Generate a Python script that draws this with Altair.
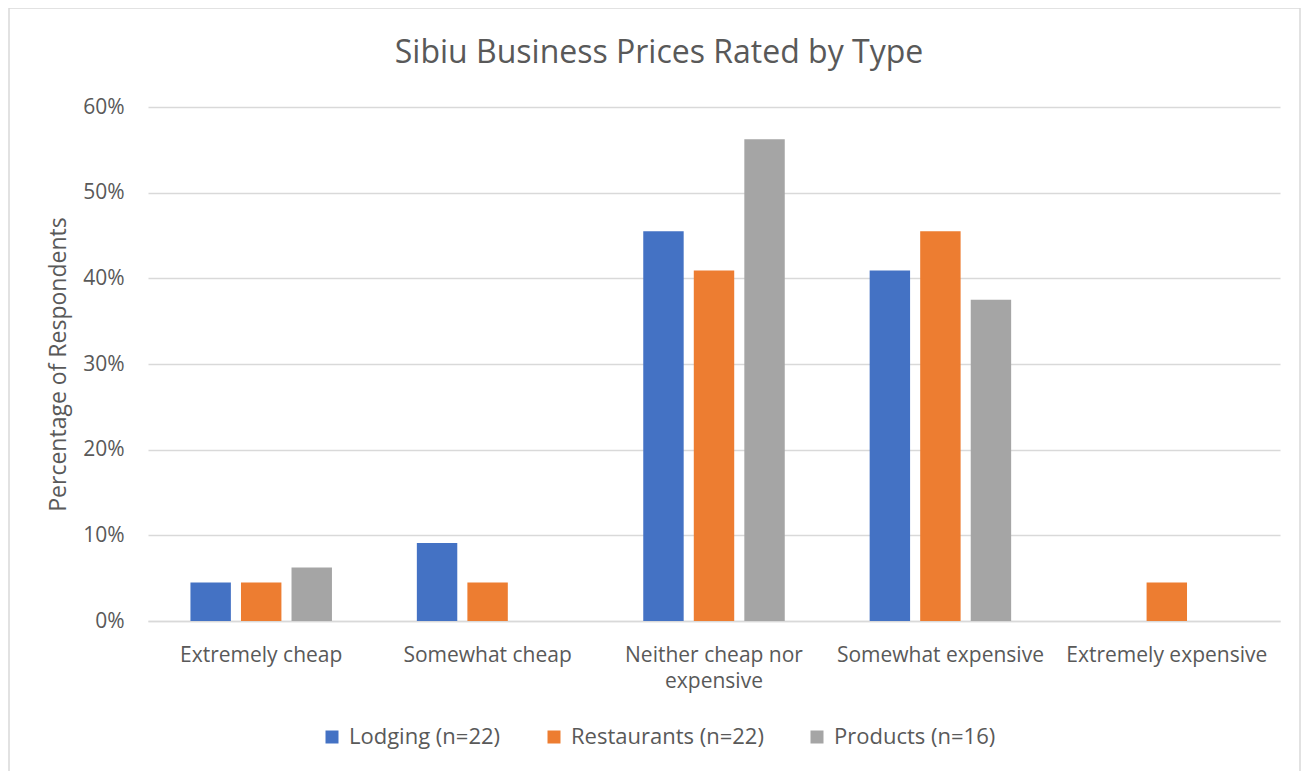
import altair as alt
import pandas as pd

chart_title = "Sibiu Business Prices Rated by Type"
categories = ["Extremely cheap", "Somewhat cheap", "Neither cheap nor expensive",
              "Somewhat expensive", "Extremely expensive"]
series = ["Lodging (n=22)", "Restaurants (n=22)", "Products (n=16)"]
lodging = [0.045, 0.091, 0.455, 0.409, 0.0]
restaurants = [0.045, 0.045, 0.409, 0.455, 0.045]
products = [0.0625, 0.0, 0.5625, 0.375, 0.0]
colors = ["#4472C4", "#ED7D31", "#A5A5A5"]
y_ticks = [0, 0.1, 0.2, 0.3, 0.4, 0.5, 0.6]

rows = []
for s, vals in zip(series, [lodging, restaurants, products]):
    for c, v in zip(categories, vals):
        rows.append({"category": c, "series": s, "value": v})
df = pd.DataFrame(rows)

FONT = "Open Sans"
TXT = "#595959"
GRID = "#d9d9d9"

one = pd.DataFrame({"t": [chart_title]})

frame = alt.Chart(one).mark_rect(
    fillOpacity=0, stroke=GRID, strokeWidth=1.5
).encode(
    x=alt.value(-139), x2=alt.value(1152), y=alt.value(-99), y2=alt.value(700)
)

title = alt.Chart(one).mark_text(
    font=FONT, fontSize=32, color=TXT, align="center", baseline="middle"
).encode(
    text="t:N", x=alt.value(511), y=alt.value(-54)
)

bars = alt.Chart(df).mark_bar().encode(
    x=alt.X(
        "category:N", sort=categories,
        scale=alt.Scale(paddingInner=0, paddingOuter=0),
        axis=alt.Axis(
            title=None, labelAngle=0, ticks=False, grid=False,
            domainColor=GRID, domainWidth=1.5,
            labelFont=FONT, labelFontSize=21, labelColor=TXT,
            labelPadding=23, labelLineHeight=26, labelLimit=0,
            labelExpr="datum.label == 'Neither cheap nor expensive' ? ['Neither cheap nor', 'expensive'] : datum.label",
        ),
    ),
    xOffset=alt.XOffset(
        "series:N", sort=series,
        scale=alt.Scale(paddingInner=0.2, paddingOuter=0.84),
    ),
    y=alt.Y(
        "value:Q",
        scale=alt.Scale(domain=[0, 0.6], nice=False),
        axis=alt.Axis(
            values=y_ticks, format=".0%", domain=False, ticks=False,
            gridColor=GRID, gridWidth=1.5,
            labelFont=FONT, labelFontSize=21, labelColor=TXT, labelPadding=24,
            title="Percentage of Respondents", titleFont=FONT, titleFontSize=23,
            titleFontWeight="normal", titleColor=TXT, titlePadding=12,
        ),
    ),
    color=alt.Color(
        "series:N", sort=series,
        scale=alt.Scale(domain=series, range=colors),
        legend=alt.Legend(
            title=None, orient="none", legendX=173, legendY=619,
            direction="horizontal", symbolType="square", symbolSize=169,
            symbolStrokeWidth=0, labelFont=FONT, labelFontSize=22,
            labelColor=TXT, columnPadding=42, labelOffset=6, labelLimit=0,
        ),
    ),
)

chart = alt.layer(frame, title, bars).properties(
    width=1132, height=514,
    autosize=alt.AutoSizeParams(type="none"),
    padding={"left": 140, "top": 99, "right": 21, "bottom": 150},
).configure_view(stroke=None)

chart.save("out.html", embed_options={"renderer": "svg", "actions": False})
